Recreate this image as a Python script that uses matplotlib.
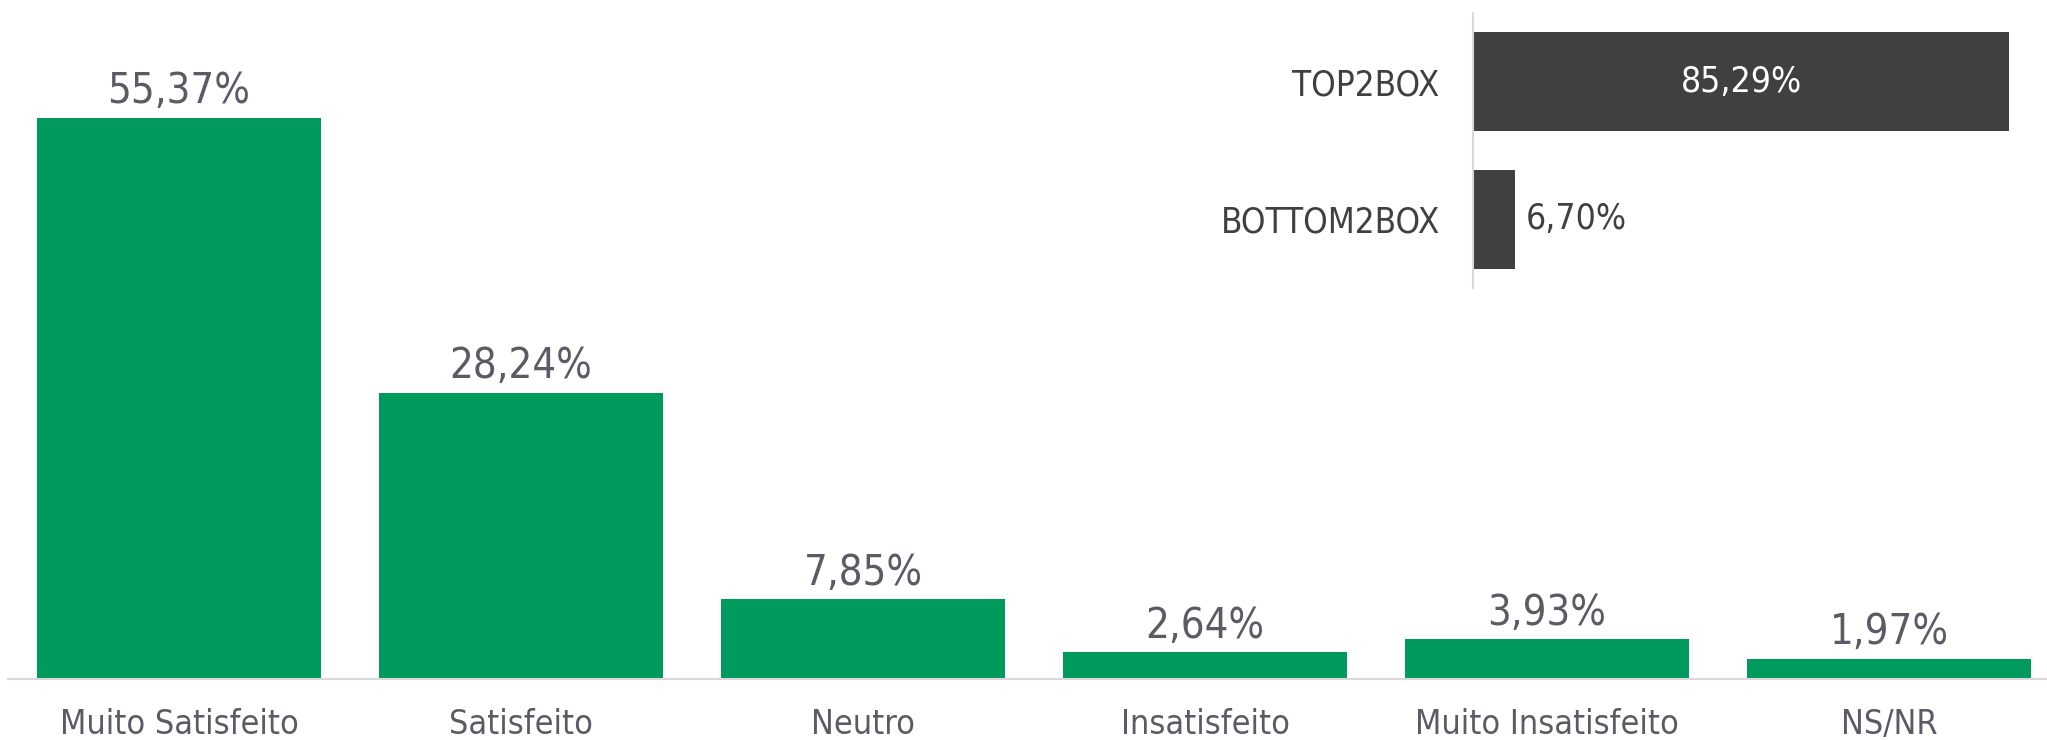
import matplotlib
matplotlib.use("Agg")
import matplotlib.pyplot as plt

# dados da pesquisa de satisfacao
categorias = ["Muito Satisfeito", "Satisfeito", "Neutro", "Insatisfeito",
              "Muito Insatisfeito", "NS/NR"]
percentuais = [55.37, 28.24, 7.85, 2.64, 3.93, 1.97]

box_labels = ["TOP2BOX", "BOTTOM2BOX"]
box_valores = [85.29, 6.70]

VERDE = "#009A5C"
CINZA_TXT = "#5B5B66"
CINZA_BOX = "#404040"
LINHA = "#D9D9D9"

plt.rcParams["font.family"] = ["DejaVu Sans"]
plt.rcParams["font.stretch"] = "condensed"


def fmt(v):
    return f"{v:.2f}%".replace(".", ",")


fig = plt.figure(figsize=(20.47, 7.4), dpi=100)

# grafico principal
ax = fig.add_axes([8 / 2047, 61 / 740, 2039 / 2047, 679 / 740])
x = range(len(categorias))
barras = ax.bar(x, percentuais, width=0.833, color=VERDE)
ax.set_xlim(-0.5, 5.462)
ax.set_ylim(0, 66.96)
for b, v in zip(barras, percentuais):
    ax.annotate(fmt(v), (b.get_x() + b.get_width() / 2, v),
                xytext=(0, 4), textcoords="offset points",
                ha="center", va="bottom", fontsize=30, color=CINZA_TXT)
ax.set_xticks(list(x))
ax.set_xticklabels(categorias, fontsize=24.5, color=CINZA_TXT)
ax.tick_params(axis="x", length=0, pad=21)
ax.set_yticks([])
for s in ["top", "right", "left"]:
    ax.spines[s].set_visible(False)
ax.spines["bottom"].set_color(LINHA)
ax.spines["bottom"].set_linewidth(1.5)

# quadro TOP2BOX / BOTTOM2BOX
ax2 = fig.add_axes([1473 / 2047, (740 - 288) / 740, 565.6 / 2047, 275.3 / 740])
y = range(len(box_labels))
hb = ax2.barh(y, box_valores, height=0.72, color=CINZA_BOX)
ax2.set_xlim(0, 90)
ax2.set_ylim(1.5, -0.5)
ax2.set_yticks(list(y))
ax2.set_yticklabels(box_labels, fontsize=25, color=CINZA_BOX)
ax2.tick_params(axis="y", length=0, pad=24)
ax2.set_xticks([])
for s in ["top", "right", "bottom"]:
    ax2.spines[s].set_visible(False)
ax2.spines["left"].set_color(LINHA)
ax2.spines["left"].set_linewidth(1.5)

ax2.text(box_valores[0] / 2, 0, fmt(box_valores[0]), ha="center", va="center",
         fontsize=25.5, color="white")
ax2.annotate(fmt(box_valores[1]), (box_valores[1], 1), xytext=(8, 0),
             textcoords="offset points", ha="left", va="center",
             fontsize=25.5, color=CINZA_BOX)

fig.savefig("out.png", dpi=100, facecolor="white")
